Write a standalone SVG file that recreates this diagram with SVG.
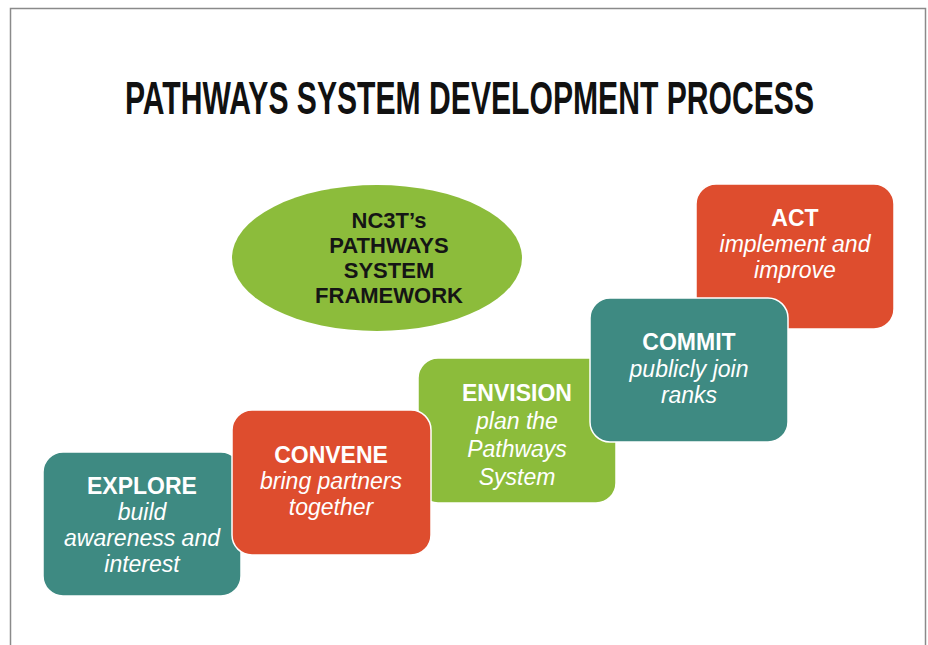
<svg xmlns="http://www.w3.org/2000/svg" width="928" height="645" viewBox="0 0 928 645">
<style>
.box{stroke:#fff;stroke-width:1.5}
.teal{fill:#3e8a82}
.red{fill:#de4d2e}
.green{fill:#8cbc3b}
.lbl{font-family:"Liberation Sans",Arial,sans-serif;font-size:23px;fill:#fff;text-anchor:middle}
.hd{font-weight:700;font-size:23px;font-style:normal}
.it{font-style:italic}
.el{font-family:"Liberation Sans",Arial,sans-serif;font-weight:700;font-size:22px;fill:#151515;text-anchor:middle}
</style>
<rect x="0" y="0" width="928" height="645" fill="#fff"/>
<rect x="10.5" y="8.5" width="915" height="660" fill="none" stroke="#8a8a8a" stroke-width="1.5"/>
<text transform="translate(125,114) scale(0.655,1)" x="0" y="0" font-family="Liberation Sans, Arial, sans-serif" font-weight="700" font-size="46" fill="#111">PATHWAYS SYSTEM DEVELOPMENT PROCESS</text>
<g id="framework">
<ellipse cx="377" cy="258" rx="145" ry="73" class="green"/>
<text class="el"><tspan x="389" y="228">NC3T’s</tspan><tspan x="389" y="253">PATHWAYS</tspan><tspan x="389" y="278">SYSTEM</tspan><tspan x="389" y="303">FRAMEWORK</tspan></text>
</g>
<g id="connectors"></g>
<g id="explore">
<rect class="box teal" x="43" y="452" width="198" height="144" rx="20"/>
<text class="lbl"><tspan class="hd" x="142" y="494">EXPLORE</tspan><tspan class="it" x="142" y="520">build</tspan><tspan class="it" x="142" y="546">awareness and</tspan><tspan class="it" x="142" y="572">interest</tspan></text>
</g>
<g id="envision">
<rect class="box green" x="418" y="358" width="198" height="145" rx="20"/>
<text class="lbl"><tspan class="hd" x="517" y="401">ENVISION</tspan><tspan class="it" x="517" y="429">plan the</tspan><tspan class="it" x="517" y="457">Pathways</tspan><tspan class="it" x="517" y="485">System</tspan></text>
</g>
<g id="convene">
<rect class="box red" x="232" y="410" width="199" height="145" rx="20"/>
<text class="lbl"><tspan class="hd" x="331" y="463">CONVENE</tspan><tspan class="it" x="331" y="489">bring partners</tspan><tspan class="it" x="331" y="515">together</tspan></text>
</g>
<g id="act">
<rect class="box red" x="696" y="184" width="198" height="145" rx="20"/>
<text class="lbl"><tspan class="hd" x="795" y="226">ACT</tspan><tspan class="it" x="795" y="252">implement and</tspan><tspan class="it" x="795" y="278">improve</tspan></text>
</g>
<g id="commit">
<rect class="box teal" x="590" y="298" width="198" height="144" rx="20"/>
<text class="lbl"><tspan class="hd" x="689" y="350">COMMIT</tspan><tspan class="it" x="689" y="377">publicly join</tspan><tspan class="it" x="689" y="403">ranks</tspan></text>
</g>
</svg>
